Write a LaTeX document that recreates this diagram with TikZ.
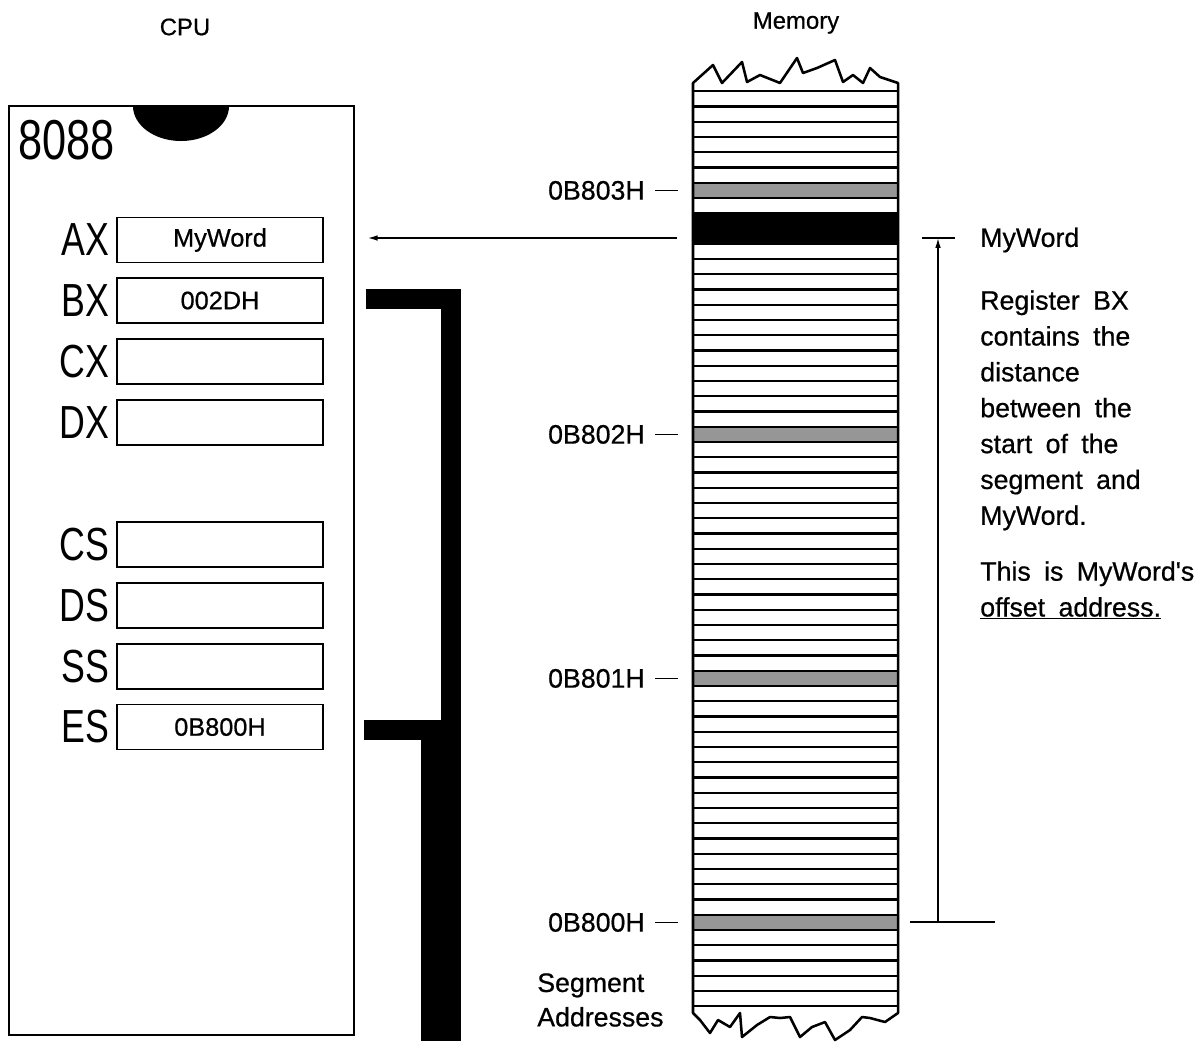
\documentclass[tikz,border=0pt]{standalone}
\usepackage{fontspec}
\setmainfont[FakeBold=0.6]{Liberation Sans}
\newfontfamily\narrowfont[FakeStretch=0.77]{Liberation Sans}
\newfontfamily\notefont[WordSpace=1.8,FakeBold=0.6]{Liberation Sans}
\usetikzlibrary{arrows.meta,positioning}
\definecolor{bytegray}{RGB}{150,150,150}
\newcommand{\rowy}[1]{930-15.25*(#1)}

\begin{document}
\begin{tikzpicture}[
  x=0.025cm, y=-0.025cm,
  title/.style={font=\fontsize{17}{20}\selectfont, inner sep=0pt},
  chip/.style={draw, line width=1.4pt},
  regbox/.style={draw, line width=1pt, minimum width=5.15cm, minimum height=1.125cm,
    inner sep=0pt, font=\fontsize{18}{20}\selectfont},
  reglabel/.style={font=\narrowfont\fontsize{33}{36}\selectfont, inner sep=0pt, anchor=east},
  addr/.style={font=\fontsize{19}{22}\selectfont, inner sep=0pt, anchor=east},
  note/.style={font=\notefont\fontsize{19}{25.5}\selectfont, inner sep=0pt, align=left},
  memline/.style={line width=1.6pt},
  edge/.style={line width=1.8pt, line join=round},
  bus/.style={line width=0.5cm},
  tick/.style={line width=1pt},
  ptr/.style={-{Latex[length=7pt,width=4pt]}, line width=1pt}
]
\useasboundingbox (0,0) rectangle (1200,1041);

\node[title] (cputitle) at (185,27) {CPU};
\node[title] (memtitle) at (796,23) {Memory};

\draw[chip] (9,106) rectangle (354,1035);
\fill (133,106) arc[start angle=180, end angle=360, x radius=1.2cm, y radius=0.875cm] -- cycle;
\node[anchor=north west, font=\narrowfont\fontsize{40}{44}\selectfont, inner sep=0pt] (chipname) at (18,120) {8088};

\foreach \name/\val/\y in {AX/MyWord/240, BX/002DH/300.5, CX//361.5, DX//422.5,
                           CS//544.5, DS//605.5, SS//666.5, ES/0B800H/727} {
  \node[regbox] (\name) at (220,\y) {\val};
  \node[reglabel] (\name lbl) at ([xshift=-5pt]\name.west) {\name};
}

\draw[bus] ([xshift=1.05cm,yshift=0.04cm]BX.east) -| (451,1041);
\draw[bus] ([xshift=1cm,yshift=-0.07cm]ES.east) -| (431,1041);

\foreach \j in {0,16,32,48}
  \fill[bytegray] (693,{\rowy{\j}}) rectangle (898,{\rowy{\j+1}});
\fill (693,{\rowy{45}}) rectangle (898,{\rowy{47}});
\foreach \j in {-5,...,55}
  \draw[memline] (693,{\rowy{\j}}) -- (898,{\rowy{\j}});
\draw[edge] (693,1013) -- (693,83) -- (713,65) -- (722,83) -- (742,62) -- (747,82) -- (760,75)
  -- (780,83) -- (797,58) -- (803,73) -- (817,68) -- (835,60) -- (843,82) -- (853,75)
  -- (863,83) -- (870,68) -- (880,77) -- (898,83) -- (898,1013) -- (885,1022) -- (870,1018)
  -- (862,1017) -- (850,1030) -- (835,1040) -- (825,1022) -- (812,1027) -- (800,1037)
  -- (790,1017) -- (780,1018) -- (770,1017) -- (757,1025) -- (742,1037) -- (740,1013)
  -- (730,1027) -- (718,1020) -- (710,1033) -- (700,1020) -- cycle;

\foreach \k/\addr in {0/0B800H, 16/0B801H, 32/0B802H, 48/0B803H} {
  \pgfmathsetmacro\yc{\rowy{\k}-7.6}
  \node[addr] (a\k) at (645,\yc) {\addr};
  \coordinate (t\k) at (678,\yc);
  \draw[tick] ([xshift=7pt]a\k.east) -- (t\k);
}

\node[title, font=\fontsize{19}{24.5}\selectfont, anchor=north west, align=left] (segnote) at (537,973) {Segment\\Addresses};

\coordinate (wordsrc) at (677,238);
\coordinate (axtip) at ([xshift=1.1cm]AX.east);
\draw[ptr] (wordsrc) -- (wordsrc -| axtip);

\coordinate (dimbot) at (938,922);
\coordinate (dimtop) at (938,238);
\draw[ptr] (dimbot) -- (dimtop);
\draw[tick] ([xshift=-0.4cm]dimtop) -- ([xshift=0.42cm]dimtop);
\draw[tick] ([xshift=-0.7cm]dimbot) -- ([xshift=1.42cm]dimbot);

\node[note, anchor=west] (wordname) at (980,240) {MyWord};
\node[note, anchor=north west] (explain) at (980,290) {Register BX\\contains the\\distance\\between the\\start of the\\segment and\\MyWord.};
\node[note, anchor=north west] (offsetnote) at (980,561) {This is MyWord's\\\underline{offset address.}};
\end{tikzpicture}
\end{document}
